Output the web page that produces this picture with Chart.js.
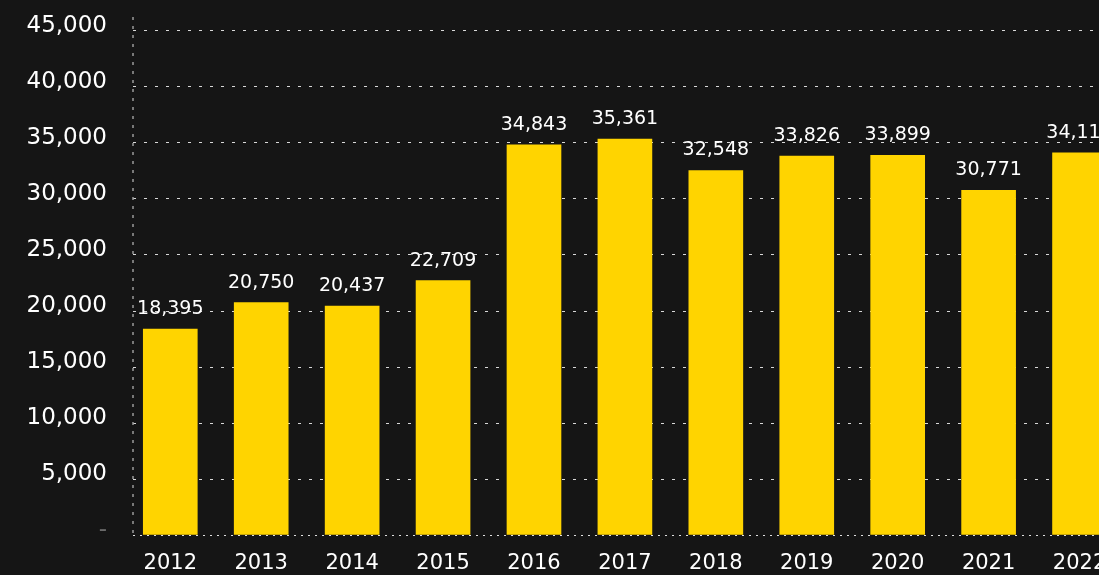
<!DOCTYPE html>
<html>
<head>
<meta charset="utf-8">
<script src="https://cdn.jsdelivr.net/npm/chart.js@4"></script>
<style>
  html, body { margin: 0; padding: 0; background: #151515; overflow: hidden; }
  #wrap { position: absolute; left: 0; top: 0; width: 1125px; height: 575px; }
</style>
</head>
<body>
<div id="wrap"><canvas id="chart"></canvas></div>
<script>
// chart data
const years = [2012, 2013, 2014, 2015, 2016, 2017, 2018, 2019, 2020, 2021, 2022];
const values = [18395, 20750, 20437, 22709, 34843, 35361, 32548, 33826, 33899, 30771, 34117];
const yTickValues = [0, 5000, 10000, 15000, 20000, 25000, 30000, 35000, 40000, 45000];

const fmt = (v) => v.toLocaleString("en-US");
const FONT = "'DejaVu Sans', Inter, sans-serif";

Chart.defaults.font.family = FONT;
Chart.defaults.color = "#ffffff";

// dotted axis lines (left axis + bottom line drawn over the bars)
const axisLines = {
  id: "axisLines",
  afterDatasetsDraw(chart) {
    const { ctx, chartArea } = chart;
    ctx.save();
    ctx.lineWidth = 1.5;
    ctx.strokeStyle = "#9a9a9a";
    ctx.setLineDash([3, 6]);
    ctx.beginPath();
    ctx.moveTo(chartArea.left, chartArea.top);
    ctx.lineTo(chartArea.left, chartArea.bottom);
    ctx.stroke();

    ctx.strokeStyle = "#e0e0e0";
    ctx.lineWidth = 1;
    ctx.setLineDash([2, 5]);
    ctx.beginPath();
    ctx.moveTo(chartArea.left, chartArea.bottom + 0.5);
    ctx.lineTo(chartArea.right, chartArea.bottom + 0.5);
    ctx.stroke();
    ctx.restore();
  },
};

// value labels above each bar
const valueLabels = {
  id: "valueLabels",
  afterDatasetsDraw(chart) {
    const { ctx } = chart;
    const meta = chart.getDatasetMeta(0);
    ctx.save();
    ctx.font = "19px " + FONT;
    ctx.fillStyle = "#ffffff";
    ctx.textAlign = "center";
    ctx.textBaseline = "alphabetic";
    meta.data.forEach((bar, i) => {
      ctx.fillText(fmt(values[i]), bar.x, bar.y - 15);
    });
    ctx.restore();
  },
};

new Chart(document.getElementById("chart"), {
  type: "bar",
  data: {
    datasets: [
      {
        data: years.map((y, i) => ({ x: y, y: values[i] })),
        backgroundColor: "#ffd400",
        barThickness: 54,
      },
    ],
  },
  options: {
    responsive: true,
    maintainAspectRatio: false,
    animation: false,
    layout: { padding: { top: 17, right: 0, bottom: 0, left: 0 } },
    plugins: { legend: { display: false }, tooltip: { enabled: false } },
    scales: {
      x: {
        type: "linear",
        bounds: "data",
        offset: false,
        min: 2011.59,
        max: 2022.5,
        afterBuildTicks: (axis) => {
          axis.ticks = years.map((v) => ({ value: v }));
        },
        afterFit: (axis) => {
          axis.height = 40;
          axis.paddingLeft = 0;
          axis.paddingRight = 0;
        },
        grid: { display: false, offset: false },
        border: { display: false },
        ticks: {
          autoSkip: false,
          maxRotation: 0,
          padding: 8,
          color: "#ffffff",
          font: { size: 21 },
          callback: (v) => String(v),
        },
      },
      y: {
        bounds: "data",
        min: 0,
        max: 46250,
        afterBuildTicks: (axis) => {
          axis.ticks = yTickValues.map((v) => ({ value: v }));
        },
        afterFit: (axis) => {
          axis.width = 133;
          axis.paddingTop = 0;
          axis.paddingBottom = 0;
        },
        grid: {
          color: (c) => (c.tick && c.tick.value === 0 ? "rgba(0,0,0,0)" : "#d8d8d8"),
          lineWidth: 1,
          drawTicks: false,
        },
        border: { display: false, dash: [3, 8] },
        ticks: {
          padding: 26,
          labelOffset: -5,
          font: { size: 23 },
          color: (c) => (c.tick && c.tick.value === 0 ? "#6a6a6a" : "#ffffff"),
          callback: (v) => (v === 0 ? "-" : fmt(v)),
        },
      },
    },
  },
  plugins: [axisLines, valueLabels],
});
</script>
</body>
</html>
